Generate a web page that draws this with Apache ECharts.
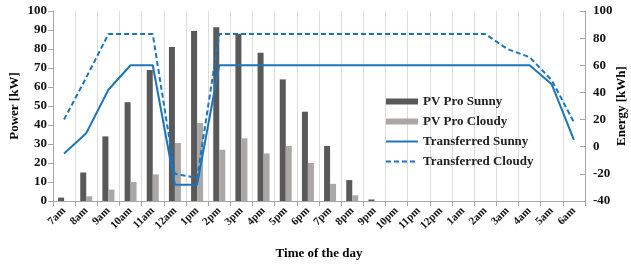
<!DOCTYPE html>
<html>
<head>
<meta charset="utf-8">
<script src="https://cdn.jsdelivr.net/npm/echarts@6/dist/echarts.min.js"></script>
<style>
  html, body { margin: 0; padding: 0; background: #fff; }
  #chart { width: 631px; height: 264px; }
</style>
</head>
<body>
<div id="chart"></div>
<script>
const hours = ['7am', '8am', '9am', '10am', '11am', '12am', '1pm', '2pm', '3pm', '4pm', '5pm', '6pm',
  '7pm', '8pm', '9pm', '10pm', '11pm', '12pm', '1am', '2am', '3am', '4am', '5am', '6am'];
const pvSunny = [1.8, 15, 34, 52, 69, 81, 89.5, 91.5, 88, 78, 64, 47, 29, 11, 0.8, 0, 0, 0, 0, 0, 0, 0, 0, 0];
const pvCloudy = [0, 2.5, 6, 10, 14, 30.5, 41, 27, 33, 25, 29, 20, 9, 3, 0, 0, 0, 0, 0, 0, 0, 0, 0, 0];
const transSunny = [-5, 10, 42, 60, 60, -28, -28, 60, 60, 60, 60, 60, 60, 60, 60, 60, 60, 60, 60, 60, 60, 60, 46, 5];
const transCloudy = [20, 51, 83, 83, 83, -20, -23, 83, 83, 83, 83, 83, 83, 83, 83, 83, 83, 83, 83, 83, 72, 66, 49, 18];

const font = 'Liberation Serif';
const blue = '#1c75bc';
const axisGrey = '#a6a6a6';

const chart = echarts.init(document.getElementById('chart'));

chart.setOption({
  animation: false,
  textStyle: { fontFamily: font, fontWeight: 'bold', color: '#000' },
  grid: { left: 53, right: 46, top: 11, bottom: 63, containLabel: false, outerBoundsMode: 'none' },
  legend: {
    orient: 'vertical',
    left: 380,
    top: 90,
    itemWidth: 32,
    itemHeight: 6,
    itemGap: 7,
    textStyle: { fontFamily: font, fontWeight: 'bold', fontSize: 13, color: '#222' },
    data: [
      { name: 'PV Pro Sunny', icon: 'rect' },
      { name: 'PV Pro Cloudy', icon: 'rect' },
      { name: 'Transferred Sunny', itemStyle: { opacity: 0 } },
      { name: 'Transferred Cloudy', itemStyle: { opacity: 0 } }
    ]
  },
  xAxis: {
    type: 'category',
    data: hours,
    name: 'Time of the day',
    nameLocation: 'middle',
    nameGap: 46,
    nameMoveOverlap: false,
    nameTextStyle: { fontFamily: font, fontWeight: 'bold', fontSize: 13, color: '#000' },
    axisLine: { lineStyle: { color: axisGrey } },
    axisTick: { show: true, lineStyle: { color: axisGrey } },
    axisLabel: { interval: 0, rotate: 45, fontSize: 11, fontFamily: font, fontWeight: 'bold', color: '#111', margin: 8 },
    splitLine: { show: true, lineStyle: { color: '#dcdcdc' } }
  },
  yAxis: [
    {
      type: 'value',
      min: 0, max: 100, interval: 10,
      name: 'Power [kW]',
      nameLocation: 'middle',
      nameRotate: 90,
      nameGap: 32,
      nameMoveOverlap: false,
      nameTextStyle: { fontFamily: font, fontWeight: 'bold', fontSize: 13, color: '#000' },
      axisLine: { show: true, lineStyle: { color: axisGrey } },
      axisTick: { show: true, lineStyle: { color: axisGrey } },
      axisLabel: { fontSize: 13, fontFamily: font, fontWeight: 'bold', color: '#111', margin: 6 },
      splitLine: { show: false }
    },
    {
      type: 'value',
      min: -40, max: 100, interval: 20,
      name: 'Energy [kWh]',
      nameLocation: 'middle',
      nameRotate: 90,
      nameGap: 30,
      nameMoveOverlap: false,
      nameTextStyle: { fontFamily: font, fontWeight: 'bold', fontSize: 13, color: '#000' },
      axisLine: { show: true, lineStyle: { color: axisGrey } },
      axisTick: { show: true, inside: true, lineStyle: { color: axisGrey } },
      axisLabel: { fontSize: 13, fontFamily: font, fontWeight: 'bold', color: '#111', margin: 8 },
      splitLine: { show: false }
    }
  ],
  series: [
    {
      name: 'PV Pro Sunny',
      type: 'bar',
      yAxisIndex: 0,
      barWidth: 6,
      barGap: '0%',
      itemStyle: { color: '#595959' },
      data: pvSunny
    },
    {
      name: 'PV Pro Cloudy',
      type: 'bar',
      yAxisIndex: 0,
      barWidth: 6,
      barGap: '0%',
      itemStyle: { color: '#aba7a7' },
      data: pvCloudy
    },
    {
      name: 'Transferred Sunny',
      type: 'line',
      yAxisIndex: 1,
      symbol: 'none',
      itemStyle: { color: blue },
      lineStyle: { color: blue, width: 2 },
      data: transSunny
    },
    {
      name: 'Transferred Cloudy',
      type: 'line',
      yAxisIndex: 1,
      symbol: 'none',
      itemStyle: { color: blue },
      lineStyle: { color: blue, width: 2, type: [5, 3] },
      data: transCloudy
    }
  ]
});
</script>
</body>
</html>
